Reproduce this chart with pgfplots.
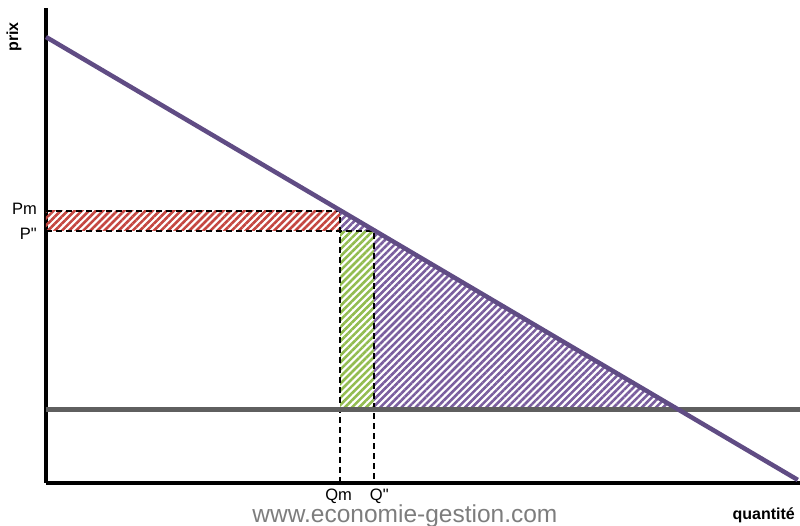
\documentclass[border=0pt]{standalone}
\usepackage{pgfplots}
\pgfplotsset{compat=1.18}
\usepackage{fontspec}
\setmainfont{Liberation Sans}
\newfontfamily\rawfont{Liberation Sans}
\usetikzlibrary{patterns.meta}
\definecolor{DemandPurple}{RGB}{96,76,132}
\definecolor{HatchPurple}{RGB}{122,94,158}
\definecolor{HatchRed}{RGB}{196,70,64}
\definecolor{HatchGreen}{RGB}{146,188,80}
\definecolor{CostGray}{RGB}{95,95,95}
\definecolor{WebGray}{RGB}{125,125,125}

\begin{document}
\begin{tikzpicture}[every node/.style={inner sep=1pt}]
\useasboundingbox (-46pt,-43pt) rectangle (754pt,483pt);
\begin{axis}[
    at={(0,0)},
    anchor=south west,
    scale only axis,
    width=754pt,
    height=475pt,
    xmin=0, xmax=100,
    ymin=0, ymax=106.5,
    axis x line=bottom,
    axis y line=left,
    axis line style={line width=4.5pt, black, -},
    xtick=\empty,
    ytick=\empty,
    clip=false,
]
% hatched areas
\addplot[draw=none, pattern={Lines[angle=45,distance=5pt,line width=2.6pt]}, pattern color=HatchRed]
    coordinates {(0,56.5) (39,56.5) (39,61) (0,61)} -- cycle;
\addplot[draw=none, pattern={Lines[angle=45,distance=5pt,line width=2.6pt]}, pattern color=HatchGreen]
    coordinates {(39,16.5) (43.5,16.5) (43.5,56.5) (39,56.5)} -- cycle;
\addplot[draw=none, pattern={Lines[angle=45,distance=5pt,line width=2.6pt]}, pattern color=HatchPurple]
    coordinates {(39,61) (83.5,16.5) (43.5,16.5) (43.5,56.5) (39,56.5)} -- cycle;

% dashed guides
\addplot[black, line width=1.4pt, dash pattern=on 6pt off 4pt]
    coordinates {(0,61) (39,61) (39,0)};
\addplot[black, line width=1.4pt, dash pattern=on 6pt off 4pt]
    coordinates {(0,56.5) (43.5,56.5) (43.5,0)};

% cost line
\addplot[CostGray, line width=4.5pt] coordinates {(0,16.5) (100,16.5)};
% demand
\addplot[DemandPurple, line width=4.5pt] coordinates {(0,100) (99.7,0.7)};

% labels
\node[anchor=east, font=\fontsize{16.5}{16.5}\selectfont] at (axis cs:0,61) [xshift=-8pt, yshift=2pt] {Pm};
\node[anchor=east, font=\rawfont\fontsize{16.5}{16.5}\selectfont] at (axis cs:0,56.5) [xshift=-8pt, yshift=-3pt] {P"};
\node[font=\fontsize{16.5}{16.5}\selectfont] at (axis cs:38.8,0) [yshift=-13pt] {Qm};
\node[font=\rawfont\fontsize{16.5}{16.5}\selectfont] at (axis cs:44.2,0) [yshift=-13pt] {Q"};
\node[font=\bfseries\fontsize{16}{16}\selectfont, anchor=east] at (axis cs:100,0) [yshift=-32pt, xshift=-4pt] {quantité};
\node[font=\fontsize{24.5}{24.5}\selectfont, text=WebGray] at (axis cs:47.6,0) [yshift=-33pt] {www.economie-gestion.com};
\end{axis}
\node[font=\bfseries\fontsize{16}{16}\selectfont, rotate=90] at (-32pt,446pt) {prix};
\end{tikzpicture}
\end{document}
